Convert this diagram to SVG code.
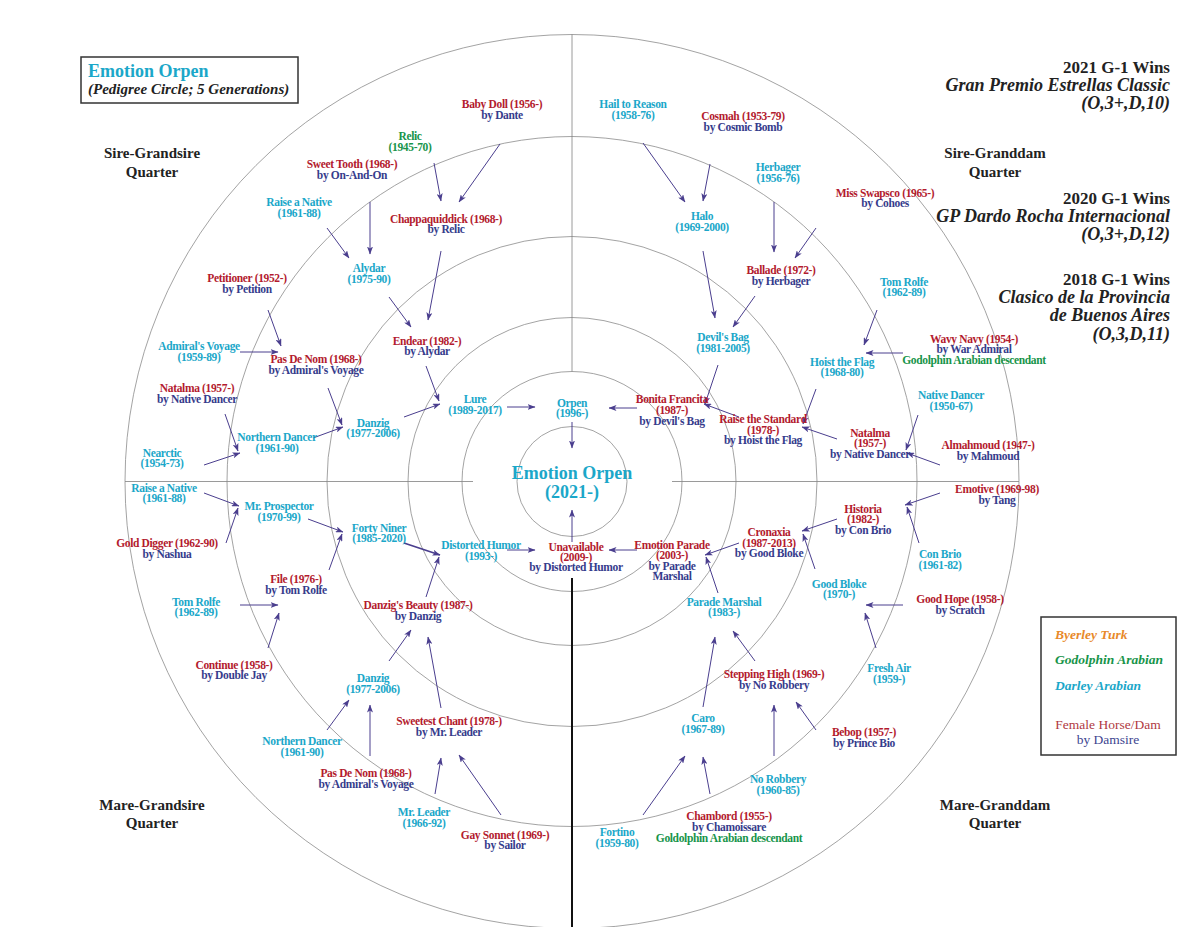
<svg xmlns="http://www.w3.org/2000/svg" width="1200" height="927" viewBox="0 0 1200 927">
<defs>
<style>
.ring{fill:none;stroke:#8c8c8c;stroke-width:0.8}
.axis{stroke:#808080;stroke-width:0.8}
.n{font-family:"Liberation Serif",serif;font-weight:bold;font-size:11.5px;text-anchor:middle;letter-spacing:-0.35px}
.r{fill:#b31b2e}.b{fill:#363c8c}.c{fill:#1ba7c9}.g{fill:#17944a}.o{fill:#e8892a}
.q{font-family:"Liberation Serif",serif;font-weight:bold;font-size:15px;text-anchor:middle;fill:#222}
.w{font-family:"Liberation Serif",serif;font-weight:bold;font-size:17px;text-anchor:end;fill:#222}
.wi{font-style:italic;font-size:18px}
.lg{font-family:"Liberation Serif",serif;font-weight:bold;font-style:italic;font-size:13.5px}
.lr{font-family:"Liberation Serif",serif;font-size:13.5px;text-anchor:middle}
.ar{fill:none;stroke:#4a3e8e;stroke-width:1;marker-end:url(#ah)}
</style>
<marker id="ah" viewBox="0 0 8 6" refX="7.5" refY="3" markerWidth="8" markerHeight="6" markerUnits="userSpaceOnUse" orient="auto">
<path d="M0,0 L8,3 L0,6 L2,3 z" fill="#4a3e8e"/>
</marker>
</defs>
<rect width="1200" height="927" fill="#fff"/>

<g id="rings">
<circle class="ring" cx="572" cy="481.5" r="55"/>
<circle class="ring" cx="572" cy="481.5" r="110"/>
<circle class="ring" cx="572" cy="481.5" r="164"/>
<circle class="ring" cx="572" cy="481.5" r="245"/>
<circle class="ring" cx="572" cy="481.5" r="345"/>
<circle class="ring" cx="572" cy="481.5" r="447"/>
<line class="axis" x1="572" y1="34.5" x2="572" y2="371.5"/>
<line class="axis" x1="125" y1="481.5" x2="473" y2="481.5"/>
<line class="axis" x1="672" y1="481.5" x2="1019" y2="481.5"/>
<line x1="572" y1="578" x2="572" y2="927" stroke="#111" stroke-width="2"/>
</g>

<g id="title">
<rect x="81" y="57" width="217" height="46" fill="#fff" stroke="#333" stroke-width="1.5"/>
<text x="88" y="77" style="font-family:'Liberation Serif',serif;font-weight:bold;font-size:18px;fill:#1ba7c9">Emotion Orpen</text>
<text x="88" y="94" style="font-family:'Liberation Serif',serif;font-weight:bold;font-style:italic;font-size:15px;fill:#222">(Pedigree Circle; 5 Generations)</text>
</g>

<g id="quarters">
<text class="q" x="152" y="158">Sire-Grandsire</text><text class="q" x="152" y="177">Quarter</text>
<text class="q" x="995" y="158">Sire-Granddam</text><text class="q" x="995" y="177">Quarter</text>
<text class="q" x="152" y="810">Mare-Grandsire</text><text class="q" x="152" y="828">Quarter</text>
<text class="q" x="995" y="810">Mare-Granddam</text><text class="q" x="995" y="828">Quarter</text>
</g>

<g id="wins">
<text class="w" x="1170" y="73">2021 G-1 Wins</text>
<text class="w wi" x="1170" y="91">Gran Premio Estrellas Classic</text>
<text class="w wi" x="1170" y="109">(O,3+,D,10)</text>
<text class="w" x="1170" y="204">2020 G-1 Wins</text>
<text class="w wi" x="1170" y="222">GP Dardo Rocha Internacional</text>
<text class="w wi" x="1170" y="240">(O,3+,D,12)</text>
<text class="w" x="1170" y="285">2018 G-1 Wins</text>
<text class="w wi" x="1170" y="303">Clasico de la Provincia</text>
<text class="w wi" x="1170" y="321">de Buenos Aires</text>
<text class="w wi" x="1170" y="340">(O,3,D,11)</text>
</g>

<g id="legend">
<rect x="1041" y="617" width="135" height="138" fill="#fff" stroke="#333" stroke-width="1.5"/>
<text class="lg o" x="1055" y="639">Byerley Turk</text>
<text class="lg g" x="1055" y="664">Godolphin Arabian</text>
<text class="lg c" x="1055" y="690">Darley Arabian</text>
<text class="lr" x="1108" y="729" fill="#b0393f">Female Horse/Dam</text>
<text class="lr" x="1108" y="744" fill="#3d4590">by Damsire</text>
</g>

<g id="connectors">
<line class="ar" x1="434" y1="163" x2="441" y2="201"/>
<line class="ar" x1="500" y1="144" x2="459" y2="202"/>
<line class="ar" x1="370" y1="202" x2="370" y2="254"/>
<line class="ar" x1="327" y1="228" x2="349" y2="258"/>
<line class="ar" x1="441" y1="251" x2="428" y2="320"/>
<line class="ar" x1="389" y1="297" x2="411" y2="327"/>
<line class="ar" x1="268" y1="310" x2="281" y2="346"/>
<line class="ar" x1="240" y1="352" x2="278" y2="352"/>
<line class="ar" x1="328" y1="388" x2="342" y2="425"/>
<line class="ar" x1="225" y1="414" x2="238" y2="451"/>
<line class="ar" x1="204" y1="465" x2="240" y2="453"/>
<line class="ar" x1="313" y1="438" x2="343" y2="427"/>
<line class="ar" x1="426" y1="366" x2="439" y2="401"/>
<line class="ar" x1="404" y1="417" x2="440" y2="404"/>
<line class="ar" x1="507" y1="407" x2="535" y2="407"/>
<line class="ar" x1="572" y1="422" x2="572" y2="448"/>
<line class="ar" x1="643" y1="143" x2="685" y2="202"/>
<line class="ar" x1="710" y1="164" x2="703" y2="201"/>
<line class="ar" x1="774" y1="202" x2="774" y2="252"/>
<line class="ar" x1="816" y1="228" x2="795" y2="258"/>
<line class="ar" x1="703" y1="251" x2="715" y2="318"/>
<line class="ar" x1="755" y1="296" x2="733" y2="327"/>
<line class="ar" x1="877" y1="310" x2="864" y2="345"/>
<line class="ar" x1="903" y1="353" x2="866" y2="353"/>
<line class="ar" x1="816" y1="389" x2="803" y2="424"/>
<line class="ar" x1="837" y1="439" x2="802" y2="427"/>
<line class="ar" x1="918" y1="415" x2="906" y2="450"/>
<line class="ar" x1="940" y1="465" x2="907" y2="453"/>
<line class="ar" x1="718" y1="365" x2="705" y2="404"/>
<line class="ar" x1="739" y1="417" x2="704" y2="404"/>
<line class="ar" x1="637" y1="408" x2="609" y2="408"/>
<line class="ar" x1="940" y1="493" x2="905" y2="505"/>
<line class="ar" x1="919" y1="543" x2="907" y2="507"/>
<line class="ar" x1="837" y1="519" x2="802" y2="531"/>
<line class="ar" x1="815" y1="569" x2="803" y2="534"/>
<line class="ar" x1="903" y1="605" x2="866" y2="605"/>
<line class="ar" x1="876" y1="648" x2="865" y2="613"/>
<line class="ar" x1="739" y1="543" x2="705" y2="555"/>
<line class="ar" x1="718" y1="593" x2="706" y2="557"/>
<line class="ar" x1="637" y1="550" x2="609" y2="550"/>
<line class="ar" x1="572" y1="542" x2="572" y2="510"/>
<line class="ar" x1="703" y1="707" x2="715" y2="637"/>
<line class="ar" x1="755" y1="661" x2="733" y2="631"/>
<line class="ar" x1="774" y1="756" x2="774" y2="705"/>
<line class="ar" x1="816" y1="730" x2="796" y2="702"/>
<line class="ar" x1="643" y1="815" x2="685" y2="756"/>
<line class="ar" x1="710" y1="794" x2="703" y2="757"/>
<line class="ar" x1="204" y1="493" x2="239" y2="506"/>
<line class="ar" x1="226" y1="543" x2="238" y2="508"/>
<line class="ar" x1="308" y1="519" x2="343" y2="532"/>
<line class="ar" x1="329" y1="570" x2="342" y2="534"/>
<line class="ar" x1="404" y1="543" x2="440" y2="555" style="stroke-width:1.8"/>
<line class="ar" x1="426" y1="597" x2="439" y2="557"/>
<line class="ar" x1="507" y1="550" x2="535" y2="550"/>
<line class="ar" x1="240" y1="605" x2="278" y2="605"/>
<line class="ar" x1="268" y1="648" x2="279" y2="613"/>
<line class="ar" x1="389" y1="661" x2="411" y2="630"/>
<line class="ar" x1="441" y1="708" x2="428" y2="637"/>
<line class="ar" x1="327" y1="730" x2="349" y2="700"/>
<line class="ar" x1="370" y1="756" x2="370" y2="705"/>
<line class="ar" x1="435" y1="794" x2="441" y2="758"/>
<line class="ar" x1="501" y1="815" x2="459" y2="755"/>
</g>

<g id="n-center"><text x="572" y="479" style="font-family:'Liberation Serif',serif;font-weight:bold;font-size:18px;text-anchor:middle;fill:#1ba7c9">Emotion Orpen</text><text x="572" y="498" style="font-family:'Liberation Serif',serif;font-weight:bold;font-size:18px;text-anchor:middle;fill:#1ba7c9">(2021-)</text></g>

<g id="n-babydoll"><text class="n r" x="502" y="108">Baby Doll (1956-)</text><text class="n b" x="502" y="119">by Dante</text></g>
<g id="n-relic"><text class="n g" x="410" y="140">Relic</text><text class="n g" x="410" y="151">(1945-70)</text></g>
<g id="n-sweettooth"><text class="n r" x="352" y="168">Sweet Tooth (1968-)</text><text class="n b" x="352" y="179">by On-And-On</text></g>
<g id="n-chappaquiddick"><text class="n r" x="446" y="223">Chappaquiddick (1968-)</text><text class="n b" x="446" y="233">by Relic</text></g>
<g id="n-raiseanative1"><text class="n c" x="299" y="206">Raise a Native</text><text class="n c" x="299" y="217">(1961-88)</text></g>
<g id="n-alydar"><text class="n c" x="369" y="272">Alydar</text><text class="n c" x="369" y="283">(1975-90)</text></g>
<g id="n-petitioner"><text class="n r" x="247" y="282">Petitioner (1952-)</text><text class="n b" x="247" y="293">by Petition</text></g>
<g id="n-endear"><text class="n r" x="427" y="345">Endear (1982-)</text><text class="n b" x="427" y="355">by Alydar</text></g>
<g id="n-admiralsvoyage"><text class="n c" x="199" y="350">Admiral's Voyage</text><text class="n c" x="199" y="361">(1959-89)</text></g>
<g id="n-pasdenom1"><text class="n r" x="316" y="363">Pas De Nom (1968-)</text><text class="n b" x="316" y="374">by Admiral's Voyage</text></g>
<g id="n-natalma1"><text class="n r" x="197" y="392">Natalma (1957-)</text><text class="n b" x="197" y="403">by Native Dancer</text></g>
<g id="n-lure"><text class="n c" x="475" y="403">Lure</text><text class="n c" x="475" y="414">(1989-2017)</text></g>
<g id="n-danzig1"><text class="n c" x="373" y="427">Danzig</text><text class="n c" x="373" y="437">(1977-2006)</text></g>
<g id="n-northerndancer1"><text class="n c" x="277" y="441">Northern Dancer</text><text class="n c" x="277" y="452">(1961-90)</text></g>
<g id="n-nearctic"><text class="n c" x="162" y="457">Nearctic</text><text class="n c" x="162" y="467">(1954-73)</text></g>
<g id="n-orpen"><text class="n c" x="572" y="407">Orpen</text><text class="n c" x="572" y="417">(1996-)</text></g>

<g id="n-hailtoreason"><text class="n c" x="633" y="108">Hail to Reason</text><text class="n c" x="633" y="119">(1958-76)</text></g>
<g id="n-cosmah"><text class="n r" x="743" y="120">Cosmah (1953-79)</text><text class="n b" x="743" y="131">by Cosmic Bomb</text></g>
<g id="n-herbager"><text class="n c" x="778" y="171">Herbager</text><text class="n c" x="778" y="182">(1956-76)</text></g>
<g id="n-missswapsco"><text class="n r" x="885" y="197">Miss Swapsco (1965-)</text><text class="n b" x="885" y="207">by Cohoes</text></g>
<g id="n-halo"><text class="n c" x="702" y="220">Halo</text><text class="n c" x="702" y="231">(1969-2000)</text></g>
<g id="n-ballade"><text class="n r" x="781" y="274">Ballade (1972-)</text><text class="n b" x="781" y="285">by Herbager</text></g>
<g id="n-tomrolfe1"><text class="n c" x="904" y="286">Tom Rolfe</text><text class="n c" x="904" y="296">(1962-89)</text></g>
<g id="n-devilsbag"><text class="n c" x="723" y="341">Devil's Bag</text><text class="n c" x="723" y="352">(1981-2005)</text></g>
<g id="n-wavynavy"><text class="n r" x="974" y="343">Wavy Navy (1954-)</text><text class="n b" x="974" y="353">by War Admiral</text><text class="n g" x="974" y="364">Godolphin Arabian descendant</text></g>
<g id="n-hoisttheflag"><text class="n c" x="842" y="366">Hoist the Flag</text><text class="n c" x="842" y="376">(1968-80)</text></g>
<g id="n-nativedancer"><text class="n c" x="951" y="399">Native Dancer</text><text class="n c" x="951" y="410">(1950-67)</text></g>
<g id="n-bonitafrancita"><text class="n r" x="672" y="403">Bonita Francita</text><text class="n r" x="672" y="414">(1987-)</text><text class="n b" x="672" y="425">by Devil's Bag</text></g>
<g id="n-raisethestandard"><text class="n r" x="763" y="423">Raise the Standard</text><text class="n r" x="763" y="434">(1978-)</text><text class="n b" x="763" y="444">by Hoist the Flag</text></g>
<g id="n-natalma2"><text class="n r" x="870" y="437">Natalma</text><text class="n r" x="870" y="447">(1957-)</text><text class="n b" x="870" y="458">by Native Dancer</text></g>
<g id="n-almahmoud"><text class="n r" x="988" y="449">Almahmoud (1947-)</text><text class="n b" x="988" y="460">by Mahmoud</text></g>

<g id="n-emotive"><text class="n r" x="997" y="493">Emotive (1969-98)</text><text class="n b" x="997" y="504">by Tang</text></g>
<g id="n-historia"><text class="n r" x="863" y="513">Historia</text><text class="n r" x="863" y="523">(1982-)</text><text class="n b" x="863" y="534">by Con Brio</text></g>
<g id="n-cronaxia"><text class="n r" x="769" y="536">Cronaxia</text><text class="n r" x="769" y="547">(1987-2013)</text><text class="n b" x="769" y="557">by Good Bloke</text></g>
<g id="n-emotionparade"><text class="n r" x="672" y="549">Emotion Parade</text><text class="n r" x="672" y="559">(2003-)</text><text class="n b" x="672" y="570">by Parade</text><text class="n b" x="672" y="580">Marshal</text></g>
<g id="n-conbrio"><text class="n c" x="940" y="558">Con Brio</text><text class="n c" x="940" y="569">(1961-82)</text></g>
<g id="n-goodbloke"><text class="n c" x="839" y="588">Good Bloke</text><text class="n c" x="839" y="598">(1970-)</text></g>
<g id="n-goodhope"><text class="n r" x="960" y="603">Good Hope (1958-)</text><text class="n b" x="960" y="614">by Scratch</text></g>
<g id="n-parademarshal"><text class="n c" x="724" y="606">Parade Marshal</text><text class="n c" x="724" y="616">(1983-)</text></g>
<g id="n-freshair"><text class="n c" x="889" y="672">Fresh Air</text><text class="n c" x="889" y="683">(1959-)</text></g>
<g id="n-steppinghigh"><text class="n r" x="774" y="678">Stepping High (1969-)</text><text class="n b" x="774" y="689">by No Robbery</text></g>
<g id="n-caro"><text class="n c" x="703" y="722">Caro</text><text class="n c" x="703" y="733">(1967-89)</text></g>
<g id="n-bebop"><text class="n r" x="864" y="736">Bebop (1957-)</text><text class="n b" x="864" y="747">by Prince Bio</text></g>
<g id="n-norobbery"><text class="n c" x="778" y="783">No Robbery</text><text class="n c" x="778" y="794">(1960-85)</text></g>
<g id="n-chambord"><text class="n r" x="729" y="820">Chambord (1955-)</text><text class="n b" x="729" y="831">by Chamoissare</text><text class="n g" x="729" y="842">Goldolphin Arabian descendant</text></g>
<g id="n-fortino"><text class="n c" x="617" y="836">Fortino</text><text class="n c" x="617" y="847">(1959-80)</text></g>

<g id="n-raiseanative2"><text class="n c" x="164" y="492">Raise a Native</text><text class="n c" x="164" y="502">(1961-88)</text></g>
<g id="n-mrprospector"><text class="n c" x="279" y="510">Mr. Prospector</text><text class="n c" x="279" y="521">(1970-99)</text></g>
<g id="n-fortyniner"><text class="n c" x="379" y="532">Forty Niner</text><text class="n c" x="379" y="542">(1985-2020)</text></g>
<g id="n-golddigger"><text class="n r" x="167" y="547">Gold Digger (1962-90)</text><text class="n b" x="167" y="558">by Nashua</text></g>
<g id="n-distortedhumor"><text class="n c" x="481" y="549">Distorted Humor</text><text class="n c" x="481" y="560">(1993-)</text></g>
<g id="n-unavailable"><text class="n r" x="576" y="551">Unavailable</text><text class="n r" x="576" y="561">(2009-)</text><text class="n b" x="576" y="571">by Distorted Humor</text></g>
<g id="n-file"><text class="n r" x="296" y="583">File (1976-)</text><text class="n b" x="296" y="594">by Tom Rolfe</text></g>
<g id="n-tomrolfe2"><text class="n c" x="196" y="606">Tom Rolfe</text><text class="n c" x="196" y="616">(1962-89)</text></g>
<g id="n-danzigsbeauty"><text class="n r" x="418" y="609">Danzig's Beauty (1987-)</text><text class="n b" x="418" y="620">by Danzig</text></g>
<g id="n-continue"><text class="n r" x="234" y="669">Continue (1958-)</text><text class="n b" x="234" y="679">by Double Jay</text></g>
<g id="n-danzig2"><text class="n c" x="373" y="682">Danzig</text><text class="n c" x="373" y="693">(1977-2006)</text></g>
<g id="n-sweetestchant"><text class="n r" x="449" y="725">Sweetest Chant (1978-)</text><text class="n b" x="449" y="736">by Mr. Leader</text></g>
<g id="n-northerndancer2"><text class="n c" x="302" y="745">Northern Dancer</text><text class="n c" x="302" y="756">(1961-90)</text></g>
<g id="n-pasdenom2"><text class="n r" x="366" y="777">Pas De Nom (1968-)</text><text class="n b" x="366" y="788">by Admiral's Voyage</text></g>
<g id="n-mrleader"><text class="n c" x="424" y="816">Mr. Leader</text><text class="n c" x="424" y="827">(1966-92)</text></g>
<g id="n-gaysonnet"><text class="n r" x="505" y="839">Gay Sonnet (1969-)</text><text class="n b" x="505" y="849">by Sailor</text></g>
</svg>
